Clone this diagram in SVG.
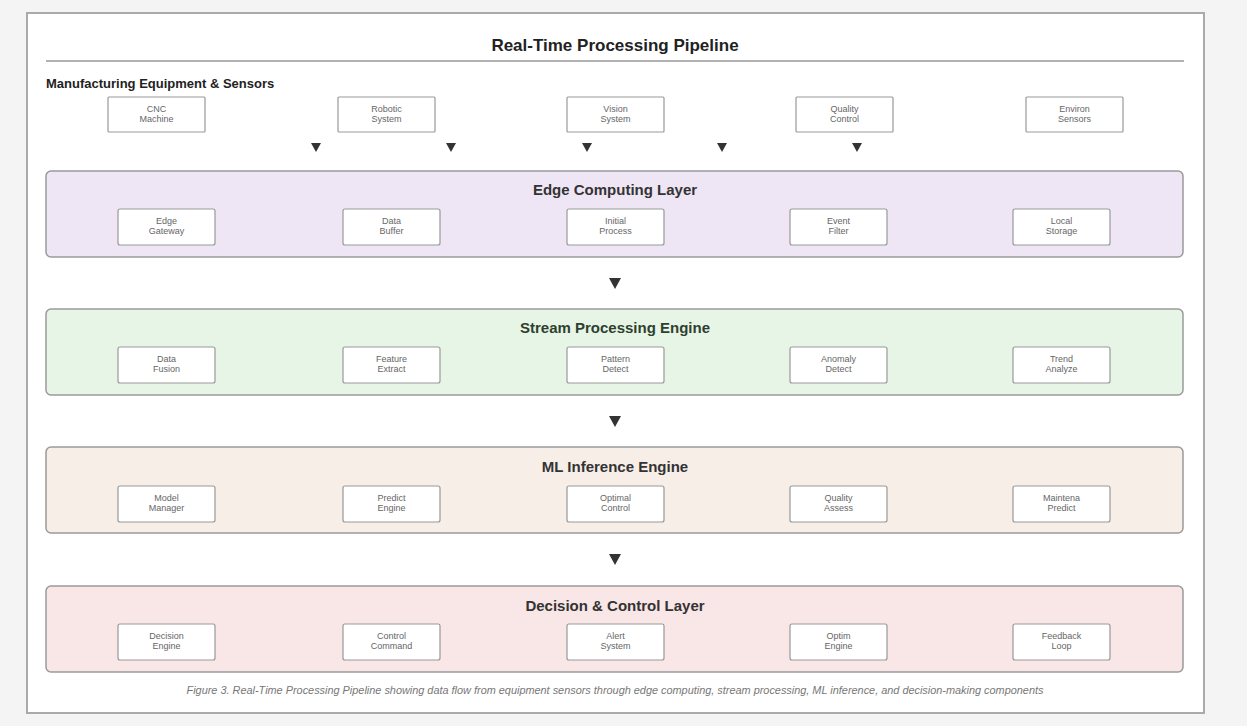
<svg xmlns="http://www.w3.org/2000/svg" width="1247" height="726" viewBox="0 0 1247 726">
<style>
text{font-family:"Liberation Sans",Arial,sans-serif}
.title{font-size:17px;font-weight:bold;fill:#222;text-anchor:middle}
.sec{font-size:13px;font-weight:bold;fill:#222}
.lt{font-size:15px;font-weight:bold;fill:#333;text-anchor:middle}
.bx{fill:#fff;stroke:#999;stroke-width:1.2}
.bt{font-size:9px;fill:#666;text-anchor:middle}
.layer{stroke:#9a9a9a;stroke-width:1.5}
.arr{fill:#333}
.cap{font-size:10.9px;font-style:italic;fill:#777;text-anchor:middle}
</style>
<rect x="0" y="0" width="1247" height="726" fill="#f4f4f4"/>
<rect x="27" y="13" width="1177" height="700" fill="#fff" stroke="#aaa" stroke-width="2"/>
<text class="title" x="615" y="51">Real-Time Processing Pipeline</text>
<line x1="46" y1="61" x2="1184" y2="61" stroke="#666" stroke-width="1.2"/>
<text class="sec" x="46" y="88">Manufacturing Equipment &amp; Sensors</text>

<g id="sensors">
<g id="s-cnc"><rect class="bx" x="108" y="97" width="97" height="35" rx="1"/><text class="bt" x="156.5" y="112">CNC</text><text class="bt" x="156.5" y="122">Machine</text></g>
<g id="s-robotic"><rect class="bx" x="338" y="97" width="97" height="35" rx="1"/><text class="bt" x="386.5" y="112">Robotic</text><text class="bt" x="386.5" y="122">System</text></g>
<g id="s-vision"><rect class="bx" x="567" y="97" width="97" height="35" rx="1"/><text class="bt" x="615.5" y="112">Vision</text><text class="bt" x="615.5" y="122">System</text></g>
<g id="s-quality"><rect class="bx" x="796" y="97" width="97" height="35" rx="1"/><text class="bt" x="844.5" y="112">Quality</text><text class="bt" x="844.5" y="122">Control</text></g>
<g id="s-environ"><rect class="bx" x="1026" y="97" width="97" height="35" rx="1"/><text class="bt" x="1074.5" y="112">Environ</text><text class="bt" x="1074.5" y="122">Sensors</text></g>
</g>

<g id="connectors">
<path class="arr" d="M311,143 L321,143 L316,152 Z"/>
<path class="arr" d="M446,143 L456,143 L451,152 Z"/>
<path class="arr" d="M582,143 L592,143 L587,152 Z"/>
<path class="arr" d="M717,143 L727,143 L722,152 Z"/>
<path class="arr" d="M852,143 L862,143 L857,152 Z"/>
<path class="arr" d="M609,278 L621,278 L615,289 Z"/>
<path class="arr" d="M609,416 L621,416 L615,427 Z"/>
<path class="arr" d="M609,554 L621,554 L615,565 Z"/>
</g>

<g id="edge-layer">
<rect class="layer" x="46" y="171" width="1137" height="86" rx="5" fill="#efe6f5"/>
<text class="lt" x="615" y="195">Edge Computing Layer</text>
<g id="e-gateway"><rect class="bx" x="118" y="209" width="97" height="36" rx="2"/><text class="bt" x="166.5" y="224">Edge</text><text class="bt" x="166.5" y="234">Gateway</text></g>
<g id="e-buffer"><rect class="bx" x="343" y="209" width="97" height="36" rx="2"/><text class="bt" x="391.5" y="224">Data</text><text class="bt" x="391.5" y="234">Buffer</text></g>
<g id="e-initial"><rect class="bx" x="567" y="209" width="97" height="36" rx="2"/><text class="bt" x="615.5" y="224">Initial</text><text class="bt" x="615.5" y="234">Process</text></g>
<g id="e-filter"><rect class="bx" x="790" y="209" width="97" height="36" rx="2"/><text class="bt" x="838.5" y="224">Event</text><text class="bt" x="838.5" y="234">Filter</text></g>
<g id="e-storage"><rect class="bx" x="1013" y="209" width="97" height="36" rx="2"/><text class="bt" x="1061.5" y="224">Local</text><text class="bt" x="1061.5" y="234">Storage</text></g>
</g>

<g id="stream-layer">
<rect class="layer" x="46" y="309" width="1137" height="86" rx="5" fill="#e7f5e7"/>
<text class="lt" x="615" y="333" style="fill:#2f3f2f">Stream Processing Engine</text>
<g id="st-fusion"><rect class="bx" x="118" y="347" width="97" height="36" rx="2"/><text class="bt" x="166.5" y="362">Data</text><text class="bt" x="166.5" y="372">Fusion</text></g>
<g id="st-feature"><rect class="bx" x="343" y="347" width="97" height="36" rx="2"/><text class="bt" x="391.5" y="362">Feature</text><text class="bt" x="391.5" y="372">Extract</text></g>
<g id="st-pattern"><rect class="bx" x="567" y="347" width="97" height="36" rx="2"/><text class="bt" x="615.5" y="362">Pattern</text><text class="bt" x="615.5" y="372">Detect</text></g>
<g id="st-anomaly"><rect class="bx" x="790" y="347" width="97" height="36" rx="2"/><text class="bt" x="838.5" y="362">Anomaly</text><text class="bt" x="838.5" y="372">Detect</text></g>
<g id="st-trend"><rect class="bx" x="1013" y="347" width="97" height="36" rx="2"/><text class="bt" x="1061.5" y="362">Trend</text><text class="bt" x="1061.5" y="372">Analyze</text></g>
</g>

<g id="ml-layer">
<rect class="layer" x="46" y="447" width="1137" height="86" rx="5" fill="#f7eee8"/>
<text class="lt" x="615" y="472">ML Inference Engine</text>
<g id="ml-model"><rect class="bx" x="118" y="486" width="97" height="36" rx="2"/><text class="bt" x="166.5" y="501">Model</text><text class="bt" x="166.5" y="511">Manager</text></g>
<g id="ml-predict"><rect class="bx" x="343" y="486" width="97" height="36" rx="2"/><text class="bt" x="391.5" y="501">Predict</text><text class="bt" x="391.5" y="511">Engine</text></g>
<g id="ml-optimal"><rect class="bx" x="567" y="486" width="97" height="36" rx="2"/><text class="bt" x="615.5" y="501">Optimal</text><text class="bt" x="615.5" y="511">Control</text></g>
<g id="ml-quality"><rect class="bx" x="790" y="486" width="97" height="36" rx="2"/><text class="bt" x="838.5" y="501">Quality</text><text class="bt" x="838.5" y="511">Assess</text></g>
<g id="ml-maint"><rect class="bx" x="1013" y="486" width="97" height="36" rx="2"/><text class="bt" x="1061.5" y="501">Maintena</text><text class="bt" x="1061.5" y="511">Predict</text></g>
</g>

<g id="decision-layer">
<rect class="layer" x="46" y="586" width="1137" height="86" rx="5" fill="#f9e6e6"/>
<text class="lt" x="615" y="611">Decision &amp; Control Layer</text>
<g id="d-decision"><rect class="bx" x="118" y="624" width="97" height="36" rx="2"/><text class="bt" x="166.5" y="639">Decision</text><text class="bt" x="166.5" y="649">Engine</text></g>
<g id="d-control"><rect class="bx" x="343" y="624" width="97" height="36" rx="2"/><text class="bt" x="391.5" y="639">Control</text><text class="bt" x="391.5" y="649">Command</text></g>
<g id="d-alert"><rect class="bx" x="567" y="624" width="97" height="36" rx="2"/><text class="bt" x="615.5" y="639">Alert</text><text class="bt" x="615.5" y="649">System</text></g>
<g id="d-optim"><rect class="bx" x="790" y="624" width="97" height="36" rx="2"/><text class="bt" x="838.5" y="639">Optim</text><text class="bt" x="838.5" y="649">Engine</text></g>
<g id="d-feedback"><rect class="bx" x="1013" y="624" width="97" height="36" rx="2"/><text class="bt" x="1061.5" y="639">Feedback</text><text class="bt" x="1061.5" y="649">Loop</text></g>
</g>

<text class="cap" x="615" y="694">Figure 3. Real-Time Processing Pipeline showing data flow from equipment sensors through edge computing, stream processing, ML inference, and decision-making components</text>
</svg>
